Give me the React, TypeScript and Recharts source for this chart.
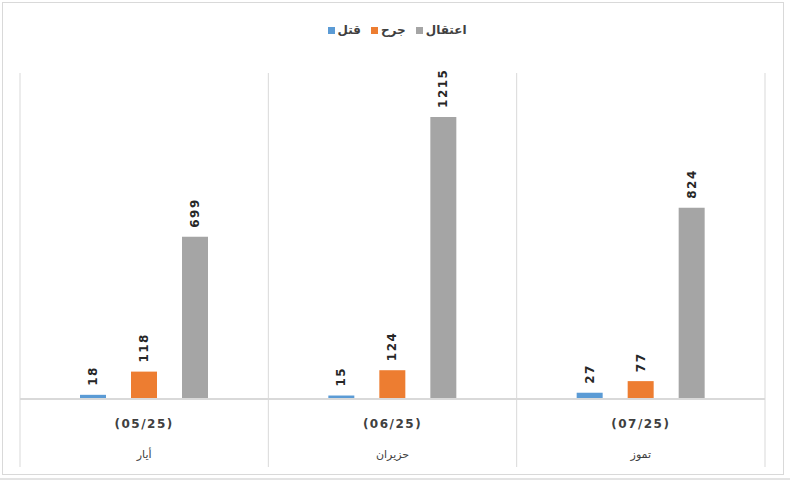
import React from "react"
import { BarChart, Bar, XAxis, YAxis, LabelList } from "recharts"

const periods = ["(05/25)", "(06/25)", "(07/25)"]
const months = ["أيار", "حزيران", "تموز"]
const killed = [18, 15, 27]
const wounded = [118, 124, 77]
const arrested = [699, 1215, 824]

const series = [
  { key: "killed", name: "قتل", color: "#5B9BD5" },
  { key: "wounded", name: "جرح", color: "#ED7D31" },
  { key: "arrested", name: "اعتقال", color: "#A5A5A5" },
]

const data = periods.map((p, i) => ({
  period: p,
  month: months[i],
  killed: killed[i],
  wounded: wounded[i],
  arrested: arrested[i],
}))

const W = 794
const H = 484
const M = { top: 74, right: 29, left: 20, bottom: 19 }
const BAND = (W - M.left - M.right) / periods.length
const PLOT_TOP = 73
const SEP_BOTTOM = 467
const FONT = "'DejaVu Sans', Tahoma, sans-serif"

function CategoryTick(props: any) {
  const { x, y, payload, index } = props
  const row = data.find((d) => d.period === payload.value)
  const left = x - BAND / 2
  return (
    <g>
      <line x1={left} x2={left} y1={PLOT_TOP} y2={SEP_BOTTOM} stroke="#d9d9d9" strokeWidth={1} />
      {index === periods.length - 1 && (
        <line x1={x + BAND / 2} x2={x + BAND / 2} y1={PLOT_TOP} y2={SEP_BOTTOM} stroke="#d9d9d9" strokeWidth={1} />
      )}
      <text x={x} y={y + 21} textAnchor="middle" fontSize={12} fontWeight="bold" fill="#404040" letterSpacing={1.5} fontFamily={FONT}>
        {payload.value}
      </text>
      <text x={x} y={y + 51} textAnchor="middle" fontSize={11} fill="#404040" fontFamily={FONT}>
        {row ? row.month : ""}
      </text>
    </g>
  )
}

function VerticalLabel(props: any) {
  const { x, y, width, value } = props
  const cx = x + width / 2 + 4
  const cy = y - 9
  return (
    <text
      x={cx}
      y={cy}
      transform={`rotate(-90 ${cx} ${cy})`}
      textAnchor="start"
      fontSize={12}
      fontWeight="bold"
      fill="#262626"
      fontFamily={FONT}
      letterSpacing={1.5}
    >
      {value}
    </text>
  )
}

export default function App() {
  return (
    <div style={{ position: "absolute", left: 0, top: 0, width: W, height: H, background: "#fff", fontFamily: FONT }}>
      <div
        style={{
          position: "absolute",
          left: 2,
          top: 2,
          width: 782,
          height: 473,
          border: "1px solid #d9d9d9",
          boxSizing: "border-box",
        }}
      />
      <div
        style={{
          position: "absolute",
          left: 0,
          top: 478,
          width: 790,
          height: 0,
          borderTop: "2px solid #e3e3e3",
        }}
      />
      <div
        style={{
          position: "absolute",
          top: 23,
          left: 0,
          width: W,
          display: "flex",
          justifyContent: "center",
          gap: 10,
          fontSize: 12,
          fontWeight: "bold",
          color: "#404040",
        }}
      >
        {series.map((s) => (
          <div key={s.key} style={{ display: "flex", alignItems: "center", gap: 3 }}>
            <span style={{ width: 7, height: 7, background: s.color, display: "inline-block" }} />
            <span>{s.name}</span>
          </div>
        ))}
      </div>
      <div style={{ position: "absolute", left: 0, top: 0 }}>
        <BarChart width={W} height={H} data={data} margin={M} barCategoryGap={60} barGap={25}>
          <XAxis
            dataKey="period"
            axisLine={{ stroke: "#d9d9d9", strokeWidth: 2 }}
            tickLine={false}
            height={66}
            interval={0}
            tick={<CategoryTick />}
          />
          <YAxis hide domain={[0, 1400]} />
          {series.map((s) => (
            <Bar key={s.key} dataKey={s.key} name={s.name} fill={s.color} isAnimationActive={false}>
              <LabelList dataKey={s.key} content={<VerticalLabel />} />
            </Bar>
          ))}
        </BarChart>
      </div>
    </div>
  )
}
